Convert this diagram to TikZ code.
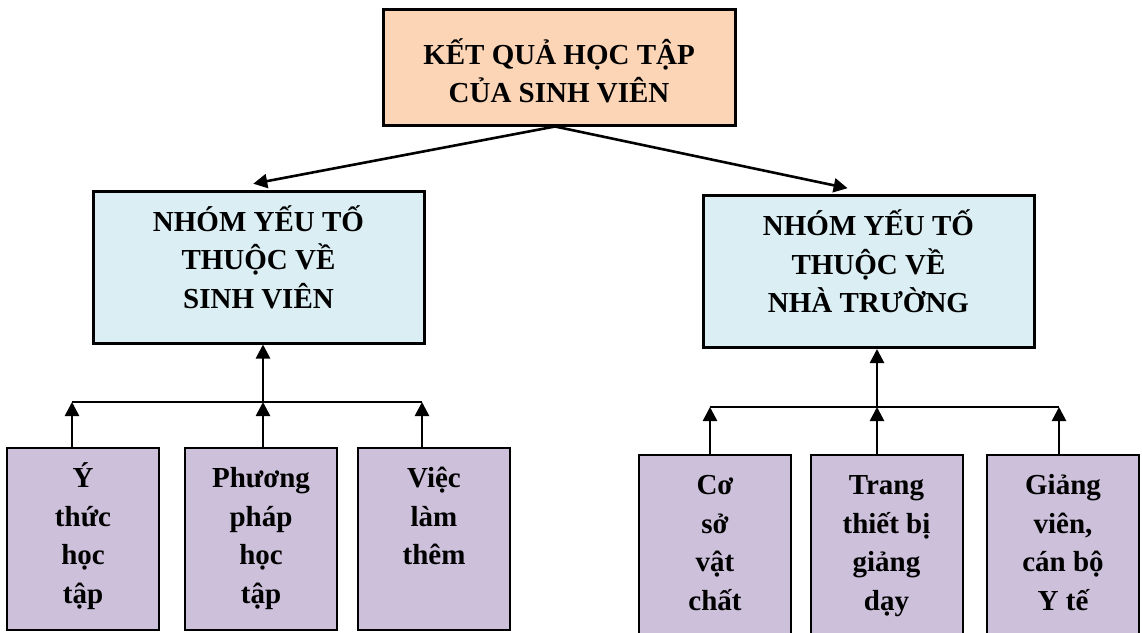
\documentclass[tikz,border=0pt]{standalone}
\usepackage{fontspec}
\setmainfont{Liberation Serif}
\usetikzlibrary{arrows.meta}
\definecolor{peach}{HTML}{FBD5B5}
\definecolor{paleblue}{HTML}{DAEEF3}
\definecolor{lavender}{HTML}{CCC0DA}
\begin{document}
\begin{tikzpicture}[x=1pt,y=-1pt,
  font=\fontsize{29}{38.5}\selectfont\bfseries,
  topbox/.style={draw,line width=3pt,fill=peach,minimum width=352pt,minimum height=116pt},
  groupbox/.style={draw,line width=3pt,fill=paleblue,minimum width=331pt,minimum height=152pt},
  leafbox/.style={draw,line width=2pt,fill=lavender,minimum width=152pt,minimum height=182pt},
  txt/.style={align=center,anchor=north,inner sep=0pt},
  arr/.style={line width=2.6pt,-{Triangle[length=14pt,width=14pt]}},
  bar/.style={line width=1.6pt}]
\clip (0,0) rectangle (1142,632);
\fill[white] (0,0) rectangle (1142,632);
% boxes
\node[topbox] (res) at (559,67) {};
\node[groupbox] (sv) at (258.5,267) {};
\node[groupbox] (nt) at (868.5,271.5) {};
\node[leafbox] (l1) at (83,539) {};
\node[leafbox] (l2) at (261,539) {};
\node[leafbox] (l3) at (434,539) {};
\node[leafbox] (r1) at (715,546) {};
\node[leafbox] (r2) at (886.5,546) {};
\node[leafbox] (r3) at (1063,546) {};
% texts
\node[txt] (resT) at ([yshift=-29.5pt]res.north) {\strut KẾT QUẢ HỌC TẬP\\CỦA SINH VIÊN};
\node[txt] (svT) at ([yshift=-14.5pt]sv.north) {\strut NHÓM YẾU TỐ\\THUỘC VỀ\\SINH VIÊN};
\node[txt] (ntT) at ([yshift=-14.5pt]nt.north) {\strut NHÓM YẾU TỐ\\THUỘC VỀ\\NHÀ TRƯỜNG};
\node[txt] (l1T) at ([yshift=-13.5pt]l1.north) {\strut Ý\\thức\\học\\tập};
\node[txt] (l2T) at ([yshift=-13.5pt]l2.north) {\strut Phương\\pháp\\học\\tập};
\node[txt] (l3T) at ([yshift=-13.5pt]l3.north) {\strut Việc\\làm\\thêm};
\node[txt] (r1T) at ([yshift=-13.5pt]r1.north) {\strut Cơ\\sở\\vật\\chất};
\node[txt] (r2T) at ([yshift=-13.5pt]r2.north) {\strut Trang\\thiết bị\\giảng\\dạy};
\node[txt] (r3T) at ([yshift=-13.5pt]r3.north) {\strut Giảng\\viên,\\cán bộ\\Y tế};
% top arrows
\draw[arr,shorten >=31pt] ([xshift=-4pt]res.south) -- ([xshift=-35.7pt]sv.north);
\draw[arr,shorten >=28pt] ([xshift=-4pt]res.south) -- ([xshift=6.5pt]nt.north);
% left branch
\coordinate (bl1) at (72,402);
\coordinate (bl2) at (263,402);
\coordinate (bl3) at (422,402);
\draw[bar] (bl1) -- (bl3);
\draw[arr] (bl2) -- (bl2 |- sv.south);
\draw[arr] (l1.north -| bl1) -- (bl1);
\draw[arr] (l2.north -| bl2) -- (bl2);
\draw[arr] (l3.north -| bl3) -- (bl3);
% right branch
\coordinate (br1) at (710,407);
\coordinate (br2) at (877,407);
\coordinate (br3) at (1059,407);
\draw[bar] (br1) -- (br3);
\draw[arr] (br2) -- (br2 |- nt.south);
\draw[arr] (r1.north -| br1) -- (br1);
\draw[arr] (r2.north -| br2) -- (br2);
\draw[arr] (r3.north -| br3) -- (br3);
\end{tikzpicture}
\end{document}
